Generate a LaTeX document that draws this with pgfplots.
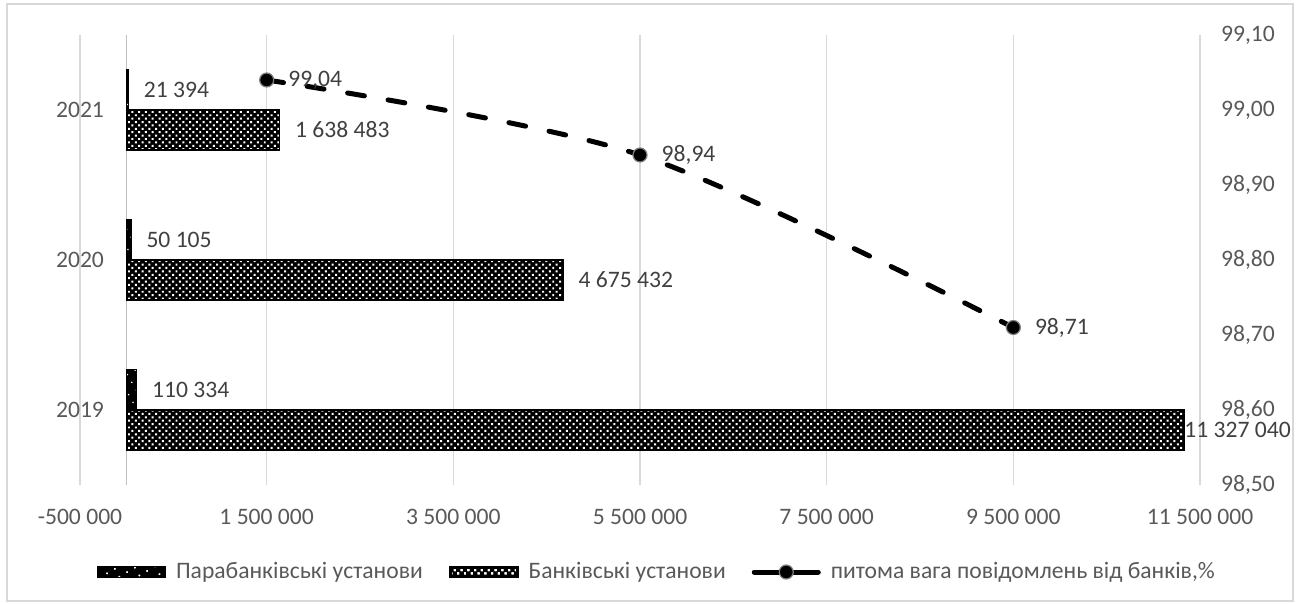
\documentclass[border=0pt]{standalone}
\usepackage{fontspec}
\setmainfont{Carlito}
\usepackage{pgfplots}
\pgfplotsset{compat=1.18}
\usetikzlibrary{patterns,patterns.meta}

\definecolor{txt}{HTML}{595959}
\definecolor{lbl}{HTML}{404040}
\definecolor{gridc}{HTML}{D9D9D9}
\definecolor{zeroc}{HTML}{BFBFBF}
\definecolor{mk}{HTML}{808080}
\newcommand\chartfont{\fontsize{11.8pt}{14pt}\selectfont}

\tikzset{
  parafill/.style={pattern={Dots[radius=0.45pt,distance=4.5pt,angle=30]},pattern color=white},
  bankfill/.style={pattern={Dots[radius=0.7pt,distance=2.4pt,angle=45]},pattern color=white},
}

\begin{document}
\begin{tikzpicture}
\useasboundingbox (0,0) rectangle (649.5pt,302pt);
\draw[gridc,line width=0.75pt] (3.5pt,1.5pt) rectangle (646.5pt,300pt);

% primary axis: horizontal bars
\begin{axis}[
  at={(40pt,59.5pt)}, anchor=south west,
  scale only axis, width=560pt, height=225pt,
  xmin=-500000, xmax=11500000,
  ymin=-0.5, ymax=2.5,
  scaled x ticks=false,
  xtick={-500000,1500000,3500000,5500000,7500000,9500000,11500000},
  xticklabels={-500 000,1 500 000,3 500 000,5 500 000,7 500 000,9 500 000,11 500 000},
  extra x ticks={0}, extra x tick labels={},
  extra x tick style={xmajorgrids=true, grid style={draw=zeroc,line width=0.75pt}},
  ytick={0,1,2}, yticklabels={2019,2020,2021},
  xmajorgrids, grid style={draw=gridc,line width=0.75pt},
  axis line style={draw=none},
  major tick length=0pt,
  tick label style={font=\chartfont,text=txt},
  yticklabel style={xshift=15.5pt},
  xticklabel style={yshift=-8.75pt},
  xbar, bar width=20pt,
  clip=false,
  nodes near coords,
  point meta=explicit symbolic,
  nodes near coords style={font=\chartfont,text=lbl,anchor=west,xshift=4pt},
  legend columns=3,
  legend cell align=left,
  legend style={at={(0.5160,0)}, anchor=center, yshift=-43.5pt,
    draw=none, fill=none, font=\chartfont, text=txt,
    /tikz/every odd column/.append style={column sep=3pt},
    /tikz/every even column/.append style={column sep=11pt}},
]
\addplot[fill=black, draw=black, line width=0.5pt,
  postaction={parafill}, bar shift=10pt,
  legend image code/.code={
    \fill[black] (0pt,-2.5pt) rectangle (34pt,2.5pt);
    \fill[parafill] (0pt,-2.5pt) rectangle (34pt,2.5pt);}]
  coordinates {(110334,0) [110 334] (50105,1) [50 105] (21394,2) [21 394]};
\addlegendentry{Парабанківські установи}

\addplot[fill=black, draw=black, line width=0.9pt,
  postaction={bankfill}, bar shift=-10pt,
  legend image code/.code={
    \fill[black] (0pt,-2.5pt) rectangle (34pt,2.5pt);
    \fill[bankfill] (0.5pt,-2pt) rectangle (33.5pt,2pt);}]
  coordinates {(4675432,1) [4 675 432] (1638483,2) [1 638 483]};
\addlegendentry{Банківські установи}

% the longest bar keeps its label inside the chart
\addplot[forget plot, fill=black, draw=black, line width=0.9pt,
  postaction={bankfill}, bar shift=-10pt,
  nodes near coords style={xshift=-7.5pt}]
  coordinates {(11327040,0) [11 327 040]};

\addlegendimage{legend image code/.code={
    \draw[black,line width=2.5pt,line cap=round] (0pt,0pt) -- (32pt,0pt);
    \draw[fill=black,draw=mk,line width=0.6pt] (16pt,0pt) circle (3.5pt);}}
\addlegendentry{питома вага повідомлень від банків,\%}
\end{axis}

% secondary axis: share of reports from banks
\begin{axis}[
  at={(40pt,59.5pt)}, anchor=south west,
  scale only axis, width=560pt, height=225pt,
  xmin=-500000, xmax=11500000,
  ymin=98.5, ymax=99.1,
  axis x line=none,
  axis y line*=right,
  y axis line style={draw=none},
  major tick length=0pt,
  ytick={98.5,98.6,98.7,98.8,98.9,99.0,99.1},
  yticklabels={{98,50},{98,60},{98,70},{98,80},{98,90},{99,00},{99,10}},
  tick label style={font=\chartfont,text=txt},
  yticklabel style={xshift=7pt},
  clip=false,
]
\addplot[black, line width=2.5pt, line cap=round,
  dash pattern=on 8.5pt off 12pt, smooth,
  mark=*, mark size=3.5pt,
  mark options={solid,fill=black,draw=mk,line width=0.6pt},
  nodes near coords, point meta=explicit symbolic,
  nodes near coords style={font=\chartfont,text=lbl,anchor=west,xshift=7.2pt}]
  coordinates {(1500000,99.04) [{99,04}] (5500000,98.94) [{98,94}] (9500000,98.71) [{98,71}]};
\end{axis}
\end{tikzpicture}
\end{document}
